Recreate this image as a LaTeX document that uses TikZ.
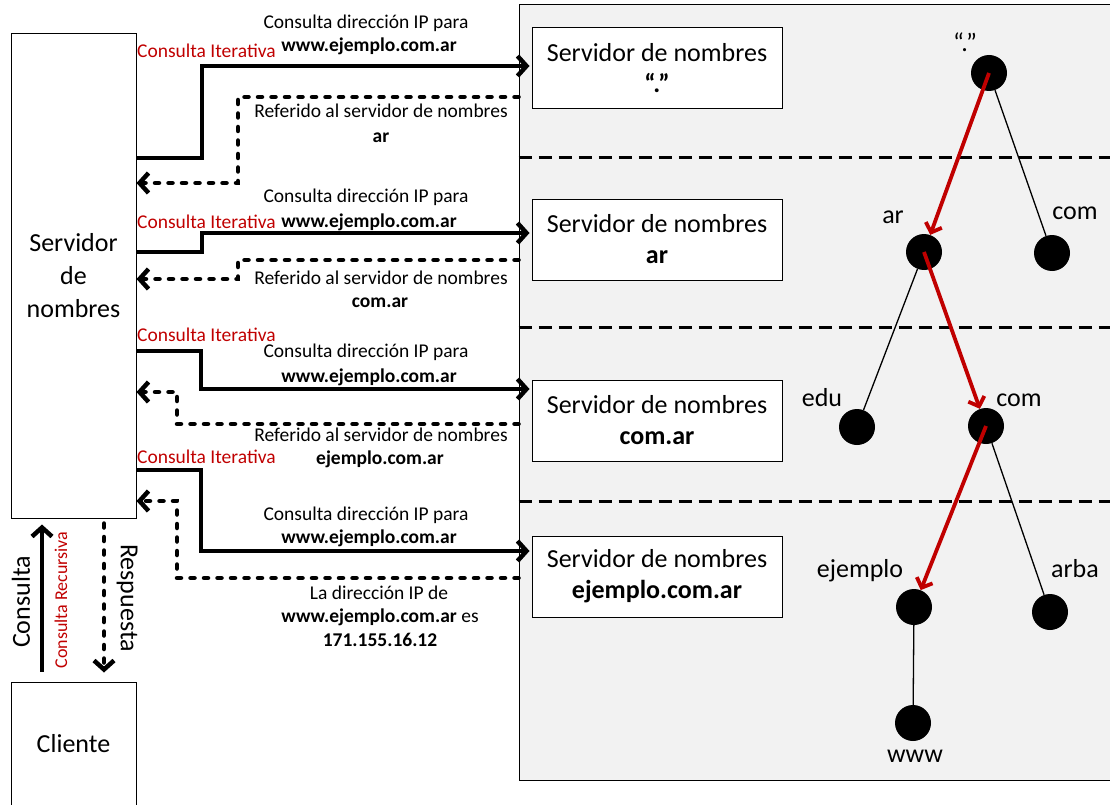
\documentclass[tikz,border=0pt]{standalone}
\usepackage{fontspec}
\setmainfont{Carlito}
\usetikzlibrary{arrows.meta}
\definecolor{rojo}{HTML}{C00000}
\definecolor{gris}{HTML}{F2F2F2}
\newcommand{\txtS}{\fontsize{19.5}{23}\selectfont}
\newcommand{\txtL}{\fontsize{26}{31}\selectfont}
\newcommand{\txtR}{\fontsize{18}{22}\selectfont}

\begin{document}
\begin{tikzpicture}[x=1pt,y=-1pt,
  marco/.style={draw, line width=1pt, inner sep=0pt, align=center},
  srv/.style={marco, fill=white, minimum width=250pt, minimum height=81pt, font=\txtL},
  sep/.style={line width=3pt, dash pattern=on 13pt off 7pt},
  req/.style={line width=4.5pt, -{Straight Barb[length=9pt,width=20pt]}},
  resp/.style={req, line cap=round, dash pattern=on 4pt off 9.5pt},
  lbl/.style={font=\txtS, anchor=base, inner sep=0pt},
  iter/.style={font=\txtS, text=rojo, anchor=base west, inner sep=0pt},
  dot/.style={circle, fill=black, minimum size=36pt, inner sep=0pt},
  tag/.style={font=\txtL, anchor=base, inner sep=0pt},
  rama/.style={line width=1.3pt},
  camino/.style={line width=3.8pt, draw=rojo, -{Straight Barb[length=8pt,width=17pt]}}
]
\useasboundingbox (0,0) rectangle (1110,805);

% zone holding the name servers and the name tree
\node[marco, fill=gris, minimum width=596pt, minimum height=775pt] (zona) at (817,392.5) {};
\foreach \y in {158,327,501}
  \draw[sep] (zona.west |- 0,\y) -- (zona.east |- 0,\y);

% name servers
\node[srv] (s1) at (657,68.5) {Servidor de nombres\\\textbf{“.”}};
\node[srv] (s2) at (657,239.5) {Servidor de nombres\\\textbf{ar}};
\node[srv] (s3) at (657,420.5) {Servidor de nombres\\\textbf{com.ar}};
\node[srv] (s4) at (657,576.5) {Servidor de nombres\\\textbf{ejemplo.com.ar}};

% local name server and client
\node[marco, minimum width=125pt, minimum height=484pt, font={\fontsize{26}{33}\selectfont}] (ns) at (73.5,276) {Servidor\\de\\nombres};
\node[marco, minimum width=125pt, minimum height=124pt, font=\txtL] (cli) at (73.5,744) {Cliente};

% iterative queries
\draw[req, shorten >=2pt] (ns.east |- 0,158) -| (202,66) -- (s1.west |- 0,66);
\draw[req, shorten >=2pt] (ns.east |- 0,252) -| (202,233) -- (s2.west |- 0,233);
\draw[req, shorten >=2pt] (ns.east |- 0,351) -| (201,389) -- (s3.west |- 0,389);
\draw[req, shorten >=2pt] (ns.east |- 0,470) -| (201,551) -- (s4.west |- 0,551);

% answers
\draw[resp] (zona.west |- 0,97) -| (238,183) -- (ns.east |- 0,183);
\draw[resp] (zona.west |- 0,260) -| (238,279) -- (ns.east |- 0,279);
\draw[resp] (zona.west |- 0,424) -| (177,392) -- (ns.east |- 0,392);
\draw[resp] (zona.west |- 0,578) -| (177,501) -- (ns.east |- 0,501);

% labels of the exchanges
\node[iter] (i1) at (137,58) {Consulta Iterativa};
\node[lbl] (q1a) at (366,29) {Consulta dirección IP para};
\node[lbl] (q1b) at (369,52) {\textbf{www.ejemplo.com.ar}};
\node[lbl] (r1a) at (381,118) {Referido al servidor de nombres};
\node[lbl] (r1b) at (381,143) {\textbf{ar}};

\node[iter] (i2) at (137,228) {Consulta Iterativa};
\node[lbl] (q2a) at (366,203) {Consulta dirección IP para};
\node[lbl] (q2b) at (369,227) {\textbf{www.ejemplo.com.ar}};
\node[lbl] (r2a) at (381,284) {Referido al servidor de nombres};
\node[lbl] (r2b) at (380,307) {\textbf{com.ar}};

\node[iter] (i3) at (137,341) {Consulta Iterativa};
\node[lbl] (q3a) at (366,357) {Consulta dirección IP para};
\node[lbl] (q3b) at (369,382) {\textbf{www.ejemplo.com.ar}};
\node[lbl] (r3a) at (381,441) {Referido al servidor de nombres};
\node[lbl] (r3b) at (380,464) {\textbf{ejemplo.com.ar}};

\node[iter] (i4) at (137,463) {Consulta Iterativa};
\node[lbl] (q4a) at (366,520) {Consulta dirección IP para};
\node[lbl] (q4b) at (369,543) {\textbf{www.ejemplo.com.ar}};
\node[lbl] (r4a) at (379,599) {La dirección IP de};
\node[lbl] (r4b) at (380,622) {\textbf{www.ejemplo.com.ar} es};
\node[lbl] (r4c) at (380,646) {\textbf{171.155.16.12}};

% recursive query between client and local server
\draw[req, shorten <=10pt, shorten >=6pt] (cli.north -| 42,0) -- (ns.south -| 42,0);
\draw[resp, shorten <=5pt, shorten >=9pt] (ns.south -| 104,0) -- (cli.north -| 104,0);
\node[font=\txtL, rotate=90, inner sep=0pt] (lc) at (21,602) {Consulta};
\node[font=\txtR, text=rojo, rotate=90, inner sep=0pt] (lr) at (61,600) {Consulta Recursiva};
\node[font=\txtL, rotate=-90, inner sep=0pt] (lp) at (127,598) {Respuesta};

% name tree
\node[dot] (raiz) at (989,73) {};
\node[dot] (ar) at (924,252) {};
\node[dot] (comA) at (1052,253) {};
\node[dot] (edu) at (857,427) {};
\node[dot] (comB) at (986,426) {};
\node[dot] (ej) at (914,607) {};
\node[dot] (arba) at (1050,612) {};
\node[dot] (www) at (913,723) {};

\draw[rama] (raiz) -- (comA);
\draw[rama] (ar) -- (edu);
\draw[rama] (comB) -- (arba);
\draw[rama] (ej) -- (www);
\draw[camino] (raiz.center) -- (ar);
\draw[camino] (ar.center) -- (comB);
\draw[camino] (comB.center) -- (ej);

\node[tag] (traiz) at (965,52) {“.”};
\node[tag] (tar) at (893,223) {ar};
\node[tag] (tcomA) at (1075,219) {com};
\node[tag] (tedu) at (822,406) {edu};
\node[tag] (tcomB) at (1019,406) {com};
\node[tag] (tej) at (860,577) {ejemplo};
\node[tag] (tarba) at (1075,577) {arba};
\node[tag] (twww) at (915,762) {www};
\end{tikzpicture}
\end{document}
